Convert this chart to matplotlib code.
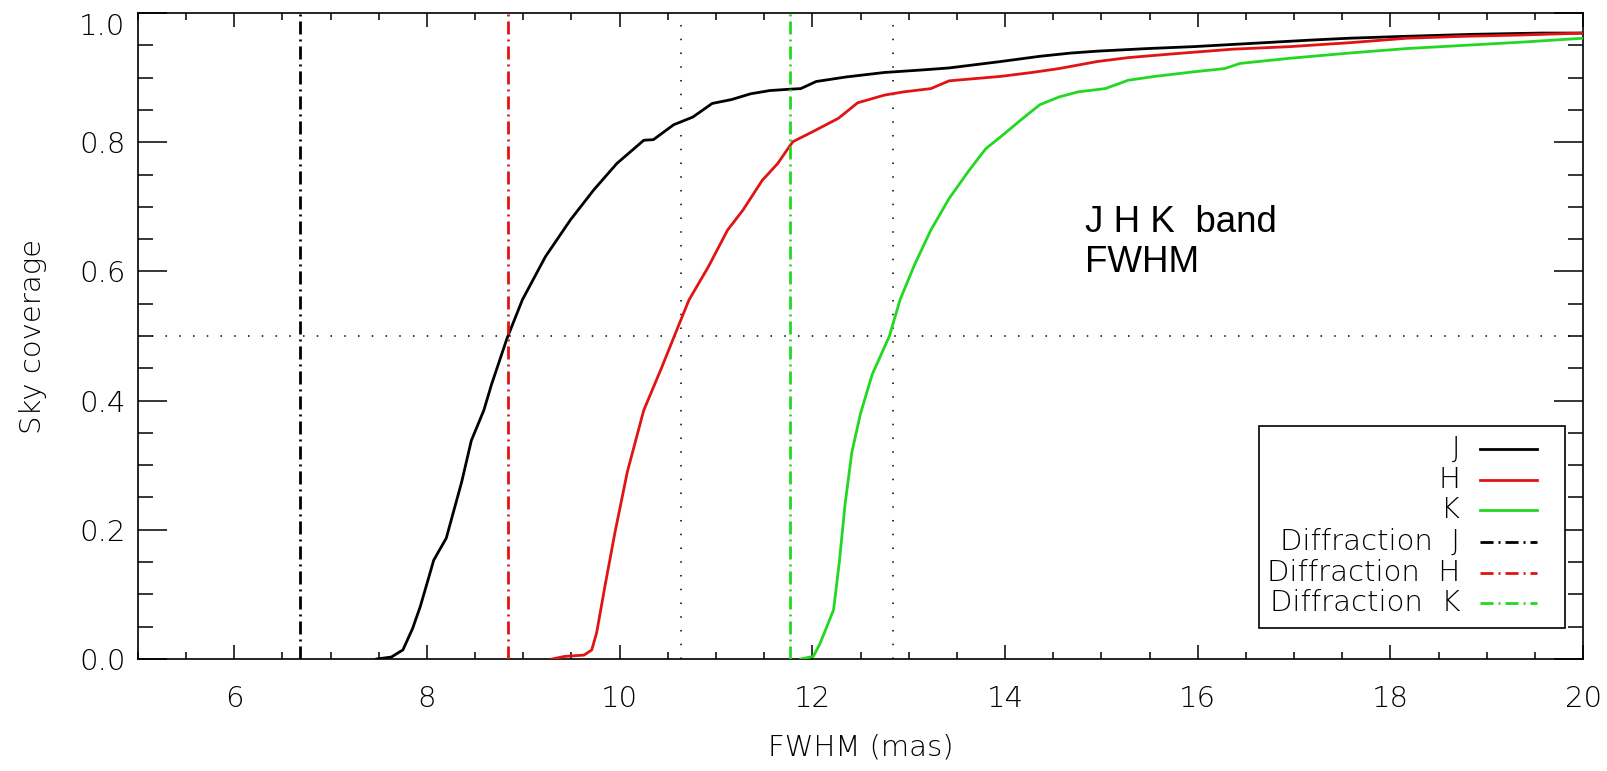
import matplotlib
matplotlib.use("Agg")
import matplotlib.pyplot as plt
from matplotlib.patches import Rectangle
from matplotlib.ticker import MultipleLocator

# Cumulative sky coverage versus achieved FWHM (mas) per band
fwhm_j = [7.48, 7.63, 7.75, 7.85, 7.93, 8.01, 8.07, 8.20, 8.36, 8.46, 8.59, 8.67,
          8.83, 8.99, 9.23, 9.49, 9.73, 9.97, 10.25, 10.35, 10.56, 10.76, 10.96,
          11.16, 11.36, 11.56, 11.76, 11.88, 12.04, 12.35, 12.75, 13.15, 13.42,
          13.96, 14.36, 14.68, 14.96, 15.48, 15.96, 16.56, 17.16, 17.57, 18.17,
          18.85, 19.57, 20.0]
cov_j = [0.000, 0.003, 0.014, 0.047, 0.081, 0.122, 0.153, 0.187, 0.274, 0.338,
         0.385, 0.425, 0.496, 0.556, 0.623, 0.680, 0.726, 0.767, 0.803, 0.804,
         0.827, 0.839, 0.860, 0.866, 0.875, 0.880, 0.882, 0.883, 0.894, 0.901,
         0.908, 0.912, 0.915, 0.925, 0.933, 0.938, 0.941, 0.945, 0.948, 0.953,
         0.958, 0.961, 0.964, 0.967, 0.969, 0.969]

fwhm_h = [9.30, 9.43, 9.63, 9.71, 9.76, 9.85, 9.95, 10.08, 10.25, 10.43, 10.60,
          10.72, 10.92, 11.12, 11.28, 11.48, 11.64, 11.76, 11.80, 12.00, 12.27,
          12.47, 12.75, 12.95, 13.23, 13.42, 13.96, 14.28, 14.56, 14.96, 15.28,
          15.76, 16.36, 16.96, 17.57, 18.17, 18.77, 19.37, 20.0]
cov_h = [0.000, 0.004, 0.006, 0.014, 0.040, 0.115, 0.195, 0.290, 0.385, 0.449,
         0.512, 0.556, 0.607, 0.664, 0.695, 0.741, 0.767, 0.793, 0.801, 0.816,
         0.837, 0.861, 0.873, 0.878, 0.883, 0.895, 0.902, 0.908, 0.914, 0.925,
         0.931, 0.937, 0.944, 0.948, 0.954, 0.961, 0.964, 0.966, 0.969]

fwhm_k = [11.88, 12.01, 12.08, 12.22, 12.28, 12.34, 12.41, 12.50, 12.62, 12.80,
          12.91, 13.06, 13.23, 13.42, 13.62, 13.80, 13.96, 14.16, 14.36, 14.56,
          14.76, 15.04, 15.28, 15.56, 15.96, 16.28, 16.44, 16.96, 17.57, 18.17,
          18.77, 19.37, 20.0]
cov_k = [0.000, 0.004, 0.024, 0.076, 0.150, 0.240, 0.320, 0.380, 0.440, 0.500,
         0.556, 0.610, 0.664, 0.713, 0.755, 0.790, 0.809, 0.834, 0.858, 0.870,
         0.878, 0.883, 0.896, 0.902, 0.909, 0.914, 0.922, 0.930, 0.938, 0.945,
         0.950, 0.955, 0.961]

# Diffraction-limited FWHM per band (mas)
diffraction = {"J": 6.68, "H": 8.84, "K": 11.77}
# Reference markers
median_level = 0.5
median_marks = [10.64, 12.84]

band_names = ["J", "H", "K"]
band_colors = {"J": "#000000", "H": "#e01414", "K": "#22d822"}

x_ticks = [6, 8, 10, 12, 14, 16, 18, 20]
y_ticks = [0.0, 0.2, 0.4, 0.6, 0.8, 1.0]
y_tick_labels = ["0.0", "0.2", "0.4", "0.6", "0.8", "1.0"]

plt.rcParams["font.family"] = ["DejaVu Sans"]
plt.rcParams["font.weight"] = "light"
plt.rcParams["axes.labelweight"] = "light"

fig = plt.figure(figsize=(16.08, 7.71), dpi=100)
ax = fig.add_axes([0.0858, 0.1453, 0.8987, 0.8378])

dashdot = (0, (4.7, 1.8, 0.7, 1.8))
dotted = (0, (1.0, 8.0))

curves = {"J": (fwhm_j, cov_j), "H": (fwhm_h, cov_h), "K": (fwhm_k, cov_k)}
for b in band_names:
    xs, ys = curves[b]
    ax.plot(xs, ys, color=band_colors[b], lw=2.0, zorder=3)

ax.axhline(median_level, color="black", lw=1.1, linestyle=dotted, zorder=2)
for xm in median_marks:
    ax.axvline(xm, color="black", lw=1.1, linestyle=dotted, zorder=2)

for b in band_names:
    ax.axvline(diffraction[b], color=band_colors[b], lw=2.0, linestyle=dashdot, zorder=4)

ax.set_xlim(5, 20)
ax.set_ylim(0, 1.0)
ax.set_xticks(x_ticks)
ax.set_yticks(y_ticks)
ax.set_yticklabels(y_tick_labels)
ax.xaxis.set_minor_locator(MultipleLocator(0.5))
ax.yaxis.set_minor_locator(MultipleLocator(0.05))

for side in ax.spines.values():
    side.set_linewidth(1.2)

ax.tick_params(axis="both", which="both", direction="in", top=True, right=True,
               width=1.1, colors="black", labelsize=21)
ax.tick_params(axis="x", which="major", length=10, pad=19)
ax.tick_params(axis="x", which="minor", length=5)
ax.tick_params(axis="y", which="major", length=21, pad=9)
ax.tick_params(axis="y", which="minor", length=10.5)
ax.yaxis.get_major_ticks()[-1].label1.set_verticalalignment("top")

ax.set_xlabel("FWHM (mas)", fontsize=21, fontweight="light")
ax.xaxis.set_label_coords(0.5, -0.115)
ax.set_ylabel("Sky coverage", fontsize=21, fontweight="light")
ax.yaxis.set_label_coords(-0.063, 0.5)

ax.text(0.655, 0.703, "J H K  band\nFWHM", transform=ax.transAxes,
        family="Liberation Sans", fontweight="normal", fontsize=26.5,
        va="top", ha="left", linespacing=1.2)

# Legend: right-aligned labels followed by line samples
box = Rectangle((0.776, 0.048), 0.2115, 0.313, transform=ax.transAxes,
                facecolor="white", edgecolor="black", lw=1.2, zorder=6)
ax.add_patch(box)
entries = [("J", "J", "-"), ("H", "H", "-"), ("K", "K", "-"),
           ("Diffraction  J", "J", dashdot), ("Diffraction  H", "H", dashdot),
           ("Diffraction  K", "K", dashdot)]
entry_y = [0.325, 0.277, 0.231, 0.181, 0.133, 0.087]
for (label, b, ls), yy in zip(entries, entry_y):
    ax.text(0.915, yy, label, transform=ax.transAxes, ha="right", va="center",
            fontsize=21, zorder=7)
    ax.plot([0.929, 0.968], [yy, yy], transform=ax.transAxes,
            color=band_colors[b], lw=2.0, linestyle=ls, zorder=7)

fig.savefig("out.png", dpi=100)
